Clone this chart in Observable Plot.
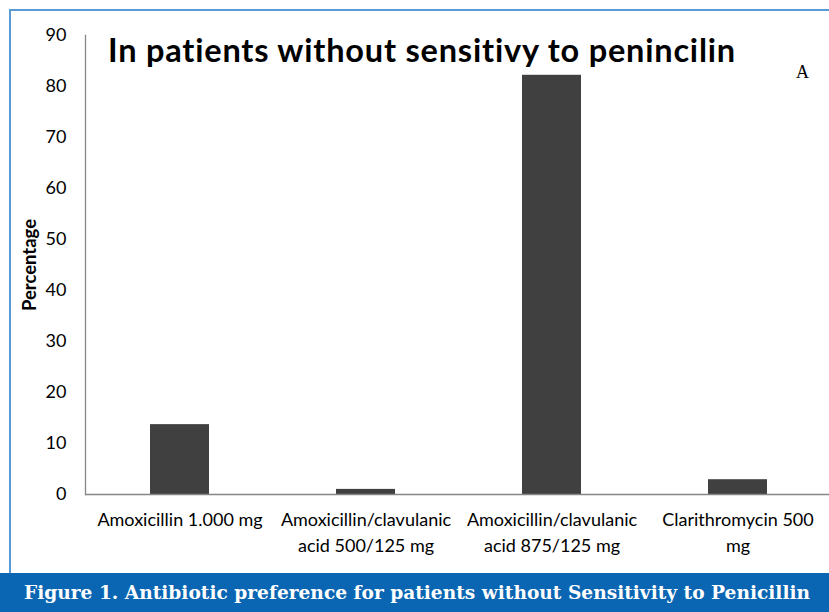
<!DOCTYPE html>
<html>
<head>
<meta charset="utf-8">
<script src="https://cdn.jsdelivr.net/npm/d3@7"></script>
<script src="https://cdn.jsdelivr.net/npm/@observablehq/plot@0.6"></script>
<style>
  body { margin: 0; background: #fff; }
  #wrap { position: relative; width: 829px; height: 612px; overflow: hidden; background: #fff; }
  #border { position: absolute; left: 9px; top: 9px; width: 840px; height: 580px; border-left: 2px solid #5b9bd5; border-top: 2px solid #5b9bd5; box-sizing: border-box; }
  #chart { position: absolute; left: 0; top: 0; }
  #title { position: absolute; left: 108px; top: 34px; line-height: 1; font-family: Lato, sans-serif; font-weight: bold; font-size: 32.5px; letter-spacing: 0.8px; color: #000; white-space: nowrap; }
  #tag { position: absolute; left: 796px; top: 62px; font-family: "Liberation Serif", serif; font-size: 18px; color: #000; }
  #ylabel { position: absolute; left: 29px; top: 265px; transform: translate(-50%, -50%) rotate(-90deg); font-family: Lato, sans-serif; font-weight: bold; font-size: 18.5px; color: #000; white-space: nowrap; }
  #caption { position: absolute; left: 0; top: 573px; width: 829px; height: 39px; background: #0a66b2; color: #fff; font-family: "DejaVu Serif", serif; font-weight: bold; font-size: 18.6px; line-height: 39px; padding-left: 24px; box-sizing: border-box; white-space: nowrap; }
</style>
</head>
<body>
<div id="wrap">
  <div id="border"></div>
  <div id="chart"></div>
  <div id="title">In patients without sensitivy to penincilin</div>
  <div id="tag">A</div>
  <div id="ylabel">Percentage</div>
  <div id="caption">Figure 1. Antibiotic preference for patients without Sensitivity to Penicillin</div>
</div>
<script>
const categories = [
  "Amoxicillin 1.000 mg",
  "Amoxicillin/clavulanic acid 500/125 mg",
  "Amoxicillin/clavulanic acid 875/125 mg",
  "Clarithromycin 500 mg"
];
const tickLabels = [
  "Amoxicillin 1.000 mg",
  "Amoxicillin/clavulanic\nacid 500/125 mg",
  "Amoxicillin/clavulanic\nacid 875/125 mg",
  "Clarithromycin 500\nmg"
];
const percentages = [13.7, 1.0, 82.2, 2.9];
const yTicks = [0, 10, 20, 30, 40, 50, 60, 70, 80, 90];

const data = categories.map((c, i) => ({category: c, value: percentages[i]}));
const labelOf = new Map(categories.map((c, i) => [c, tickLabels[i]]));

const chart = Plot.plot({
  width: 829,
  height: 573,
  marginLeft: 85,
  marginRight: 0,
  marginTop: 35,
  marginBottom: 79,
  style: {fontFamily: "Lato, sans-serif", fontSize: "18px", color: "#000", background: "transparent"},
  x: {type: "band", domain: categories, range: [85, 831], paddingInner: 0.684, paddingOuter: 0.342, align: 0.5},
  y: {domain: [0, 90]},
  marks: [
    Plot.barY(data, {x: "category", y: "value", fill: "#404040"}),
    Plot.ruleY([0], {stroke: "#868686", strokeWidth: 1.3}),
    Plot.frame({anchor: "left", stroke: "#868686", strokeWidth: 1.3}),
    Plot.axisY({ticks: yTicks, tickSize: 0, tickPadding: 19, label: null, fontSize: 18}),
    Plot.axisX({tickSize: 0, tickPadding: 14, label: null, fontSize: 18, lineHeight: 1.4, tickFormat: d => labelOf.get(d)})
  ]
});
document.getElementById("chart").appendChild(chart);
</script>
</body>
</html>
